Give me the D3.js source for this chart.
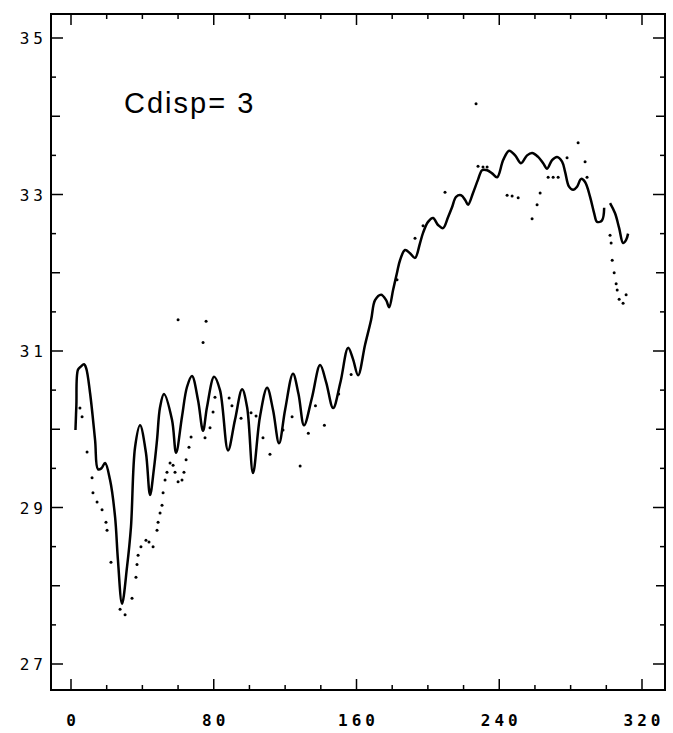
<!DOCTYPE html>
<html>
<head>
<meta charset="utf-8">
<script src="https://cdn.jsdelivr.net/npm/d3@7"></script>
<style>
  body { margin: 0; background: #fff; }
  svg { display: block; }
</style>
</head>
<body>
<div id="chart"></div>
<script>
// solid curve, x (channel) and y values, null = gap in the trace
var solidX = [2.5, 3.0, 3.9, 5.5, 7.3, 8.5, 10.7, 13.5, 15.1, 17.0, 19.1, 21.9, 24.7, 26.3, 28.6, 31.4, 33.6, 35.9, 38.7, 42.0,
  44.3, 46.5, 48.2, 49.9, 52.1, 56.6, 58.9, 62.2, 65.0, 67.8, 71.2, 74.0, 76.2, 80.2, 83.5, 88.0, 91.9, 95.9, 98.7, 102.0,
  105.9, 109.9, 113.2, 116.6, 120.0, 124.4, 127.5, 130.6, 135.0, 139.6, 143.0, 146.9, 151.0, 155.3, 158.0, 160.9, 164.8, 168.2, 170.4, 173.8,
  176.6, 178.3, 180.5, 182.7, 184.4, 187.2, 190.0, 192.8, 195.6, 197.3, 200.1, 202.9, 205.7, 208.5, 211.3, 213.6, 215.8, 218.6, 220.9, 222.5,
  225.3, 228.1, 230.4, 233.2, 236.0, 238.8, 242.2, 245.5, 248.9, 252.2, 255.6, 258.4, 261.8, 264.6, 266.8, 269.6, 272.4, 275.2, 276.9, 279.1,
  281.4, 283.6, 285.9, 288.1, 290.9, 293.2, 294.8, 297.6, 298.8, 300.5, 302.1, 304.9, 307.2, 309.4, 311.1, 312.2];
var solidY = [29.99, 30.30, 30.76, 30.80, 30.83, 30.78, 30.46, 29.86, 29.49, 29.50, 29.57, 29.35, 28.88, 28.33, 27.77, 28.24, 28.75, 29.77, 30.05, 29.70,
  29.16, 29.50, 29.86, 30.28, 30.45, 30.12, 29.70, 30.16, 30.54, 30.68, 30.37, 29.98, 30.28, 30.67, 30.50, 29.73, 30.12, 30.51, 30.28, 29.44,
  30.16, 30.53, 30.25, 29.82, 30.25, 30.71, 30.45, 30.05, 30.40, 30.82, 30.60, 30.27, 30.60, 31.04, 30.90, 30.69, 31.08, 31.40, 31.65, 31.72,
  31.65, 31.56, 31.78, 32.00, 32.16, 32.29, 32.25, 32.19, 32.38, 32.51, 32.65, 32.70, 32.61, 32.57, 32.71, 32.84, 32.97, 32.99, 32.93, 32.87,
  33.02, 33.19, 33.31, 33.31, 33.27, 33.22, 33.44, 33.56, 33.50, 33.40, 33.50, 33.53, 33.48, 33.40, 33.33, 33.44, 33.48, 33.42, 33.29, 33.10,
  33.06, 33.10, 33.20, 33.16, 32.97, 32.76, 32.65, 32.67, 32.83, null, 32.89, 32.76, 32.57, 32.38, 32.42, 32.50];

// dotted series (sparse points)
var dotX = [5.0, 6.2, 9.0, 11.8, 12.3, 14.6, 17.4, 19.6, 20.2, 22.4, 27.5, 30.3, 34.2, 36.4, 37.0, 37.6, 39.2, 42.0, 43.7, 46.0,
  48.2, 48.8, 49.9, 51.0, 51.6, 52.7, 53.8, 55.5, 57.2, 58.3, 60.0, 62.2, 63.3, 64.5, 66.1, 67.3, 75.1, 77.9, 79.6, 80.7,
  88.6, 90.2, 95.3, 100.9, 103.7, 107.6, 111.5, 118.8, 123.9, 133.0, 137.0, 142.0, 150.0, 157.0,
  182.7, 192.8, 197.3, 209.6, 228.1, 230.9, 233.2, 244.4, 247.2, 250.6, 258.4, 261.2, 262.9, 267.4, 270.2, 273.0,
  278.0, 288.1, 289.2, 302.1, 302.7, 303.3, 304.4, 305.5, 306.1, 307.2, 309.4, 311.1,
  60.0, 75.7, 74.0, 128.4, 227.0, 284.2];
var dotY = [30.27, 30.16, 29.71, 29.38, 29.19, 29.07, 28.97, 28.81, 28.71, 28.30, 27.70, 27.63, 27.84, 28.11, 28.27, 28.39, 28.50, 28.58, 28.56, 28.50,
  28.71, 28.81, 28.93, 29.03, 29.19, 29.35, 29.45, 29.57, 29.54, 29.45, 29.33, 29.35, 29.45, 29.61, 29.77, 29.90, 29.89, 30.02, 30.22, 30.41,
  30.40, 30.30, 30.14, 30.21, 30.17, 29.89, 29.68, 29.99, 30.16, 29.95, 30.30, 30.05, 30.45, 30.70,
  31.91, 32.44, 32.60, 33.03, 33.36, 33.35, 33.35, 32.99, 32.98, 32.96, 32.69, 32.87, 33.02, 33.22, 33.22, 33.22,
  33.47, 33.42, 33.22, 32.48, 32.38, 32.16, 32.00, 31.86, 31.78, 31.66, 31.61, 31.72,
  31.40, 31.38, 31.11, 29.53, 34.16, 33.66];

var xLabels = [0, 80, 160, 240, 320];
var yLabels = [27, 29, 31, 33, 35];
var title = "Cdisp= 3";

var width = 673, height = 733;
var box = {left: 51, right: 665, top: 14, bottom: 690};

var x = d3.scaleLinear().domain([0, 320]).range([71, 642]);
var y = d3.scaleLinear().domain([27, 35]).range([664, 38]);

var svg = d3.select("#chart").append("svg")
  .attr("width", width)
  .attr("height", height);

// frame
svg.append("rect")
  .attr("x", box.left).attr("y", box.top)
  .attr("width", box.right - box.left).attr("height", box.bottom - box.top)
  .attr("fill", "none").attr("stroke", "#000").attr("stroke-width", 2);

// x ticks, bottom and top, pointing in
var xt = d3.range(0, 321, 20);
svg.selectAll(".xtb").data(xt).enter().append("line")
  .attr("x1", function(d){return x(d);}).attr("x2", function(d){return x(d);})
  .attr("y1", box.bottom).attr("y2", function(d){return box.bottom - (d % 80 == 0 ? 11 : 5);})
  .attr("stroke", "#000").attr("stroke-width", 1.5);
svg.selectAll(".xtt").data(xt).enter().append("line")
  .attr("x1", function(d){return x(d);}).attr("x2", function(d){return x(d);})
  .attr("y1", box.top).attr("y2", function(d){return box.top + (d % 80 == 0 ? 11 : 5);})
  .attr("stroke", "#000").attr("stroke-width", 1.5);

// y ticks, left and right
var yt = d3.range(27, 35.01, 0.5);
function ylen(d) { return d % 2 == 1 ? 12 : (d % 1 == 0 ? 9 : 5); }
svg.selectAll(".ytl").data(yt).enter().append("line")
  .attr("x1", box.left).attr("x2", function(d){return box.left + ylen(d);})
  .attr("y1", function(d){return y(d);}).attr("y2", function(d){return y(d);})
  .attr("stroke", "#000").attr("stroke-width", 1.5);
svg.selectAll(".ytr").data(yt).enter().append("line")
  .attr("x1", box.right).attr("x2", function(d){return box.right - ylen(d);})
  .attr("y1", function(d){return y(d);}).attr("y2", function(d){return y(d);})
  .attr("stroke", "#000").attr("stroke-width", 1.5);

// tick labels
svg.selectAll(".xl").data(xLabels).enter().append("text")
  .attr("x", function(d){return x(d) + 2;})
  .attr("y", 726)
  .attr("text-anchor", "middle")
  .style("font-family", "DejaVu Sans Mono")
  .style("font-size", "16px")
  .style("font-weight", "bold")
  .style("letter-spacing", "4px")
  .text(function(d){return d;});
svg.selectAll(".yl").data(yLabels).enter().append("text")
  .attr("x", 47)
  .attr("y", function(d){return y(d) + 6;})
  .attr("text-anchor", "end")
  .style("font-family", "DejaVu Sans Mono")
  .style("font-size", "16px")
  .style("letter-spacing", "4px")
  .text(function(d){return d;});

// title inside the plot
svg.append("text")
  .attr("x", 124).attr("y", 113)
  .style("font-family", "Liberation Sans")
  .style("font-size", "29px")
  .style("letter-spacing", "2px")
  .text(title);

// solid trace
var solid = solidX.map(function(d, i){ return [d, solidY[i]]; });
var line = d3.line()
  .defined(function(d){ return d[1] != null; })
  .x(function(d){ return x(d[0]); })
  .y(function(d){ return y(d[1]); })
  .curve(d3.curveCatmullRom);
svg.append("path")
  .datum(solid)
  .attr("d", line)
  .attr("fill", "none")
  .attr("stroke", "#000")
  .attr("stroke-width", 2.5);

// dotted trace
var dots = dotX.map(function(d, i){ return [d, dotY[i]]; });
svg.selectAll(".dot").data(dots).enter().append("circle")
  .attr("cx", function(d){ return x(d[0]); })
  .attr("cy", function(d){ return y(d[1]); })
  .attr("r", 1.5)
  .attr("fill", "#000");
</script>
</body>
</html>
